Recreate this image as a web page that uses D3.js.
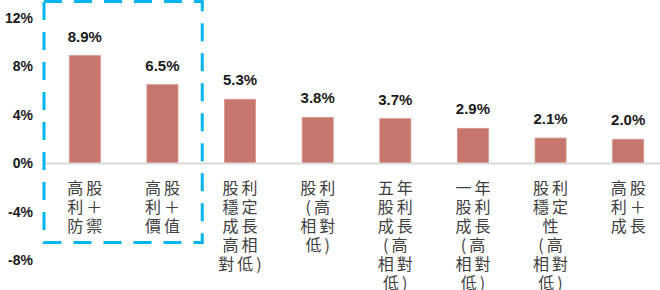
<!DOCTYPE html>
<html>
<head>
<meta charset="utf-8">
<script src="https://cdn.jsdelivr.net/npm/d3@7"></script>
<style>
  body { margin: 0; background: #fff; }
  svg { display: block; }
</style>
</head>
<body>
<svg width="660" height="290"></svg>
<script>
// category labels, one entry per bar, split into the lines shown under each bar
const categories = [
    ["高股", "利＋", "防禦"],
    ["高股", "利＋", "價值"],
    ["股利", "穩定", "成長", "高相", "對低)"],
    ["股利", "(高", "相對", "低)"],
    ["五年", "股利", "成長", "(高", "相對", "低)"],
    ["一年", "股利", "成長", "(高", "相對", "低)"],
    ["股利", "穩定", "性", "(高", "相對", "低)"],
    ["高股", "利＋", "成長"]
];
const values = [8.9, 6.5, 5.3, 3.8, 3.7, 2.9, 2.1, 2.0];
const yTicks = [-8, -4, 0, 4, 8, 12];
const highlighted = 2; // first two categories sit inside the dashed box

let svg = d3.select("svg"),
    ids = d3.range(values.length);

let x = d3.scaleBand()
    .domain(ids)
    .range([46, 667])
    .paddingInner(0.6)
    .paddingOuter(0.3);

let y = d3.scaleLinear()
    .domain([-8, 12])
    .range([260.5, 18]);

// y axis labels only
svg.append("g")
    .attr("transform", "translate(46,0)")
    .call(d3.axisLeft(y).tickValues(yTicks).tickFormat(d => d + "%").tickSize(0).tickPadding(13))
    .call(g => g.select(".domain").remove())
    .selectAll("text")
    .attr("font-family", "Liberation Sans, Arial, sans-serif")
    .attr("font-size", 14)
    .attr("font-weight", "bold")
    .attr("fill", "#1a1a1a");

// bars
svg.append("g")
    .selectAll("rect")
    .data(ids)
    .enter().append("rect")
    .attr("x", i => x(i))
    .attr("y", i => y(values[i]))
    .attr("width", x.bandwidth())
    .attr("height", i => y(0) - y(values[i]))
    .attr("fill", "#c6766c")
    .attr("stroke", "#d8968c")
    .attr("stroke-width", 0.8);

// zero line
svg.append("line")
    .attr("x1", 45)
    .attr("x2", 660)
    .attr("y1", y(0))
    .attr("y2", y(0))
    .attr("stroke", "#d9d9d9")
    .attr("stroke-width", 1.8);

// value labels
svg.append("g")
    .selectAll("text")
    .data(ids)
    .enter().append("text")
    .attr("x", i => x(i) + x.bandwidth() / 2)
    .attr("y", i => y(values[i]) - 14)
    .attr("text-anchor", "middle")
    .attr("font-family", "Liberation Sans, Arial, sans-serif")
    .attr("font-size", 15)
    .attr("font-weight", "bold")
    .attr("fill", "#1a1a1a")
    .text(i => values[i].toFixed(1) + "%");

// category labels
let cat = svg.append("g")
    .selectAll("text")
    .data(ids)
    .enter().append("text")
    .attr("text-anchor", "middle")
    .attr("font-family", "Noto Sans CJK TC, sans-serif")
    .attr("font-size", 16)
    .attr("letter-spacing", 3)
    .attr("fill", "#404040");

cat.selectAll("tspan")
    .data(i => categories[i].map(line => ({i: i, line: line})))
    .enter().append("tspan")
    .attr("x", d => x(d.i) + x.bandwidth() / 2 + 1.5)
    .attr("y", (d, j) => 194 + j * 19)
    .text(d => d.line);

// dashed highlight box around the first two categories
let boxLeft = x.range()[0] - 2,
    boxRight = x.range()[0] + highlighted * x.step() + 1;

svg.append("rect")
    .attr("x", boxLeft)
    .attr("y", 1.5)
    .attr("width", boxRight - boxLeft)
    .attr("height", 241)
    .attr("fill", "none")
    .attr("stroke", "#00b4f0")
    .attr("stroke-width", 3)
    .attr("stroke-dasharray", "18,12");
</script>
</body>
</html>
